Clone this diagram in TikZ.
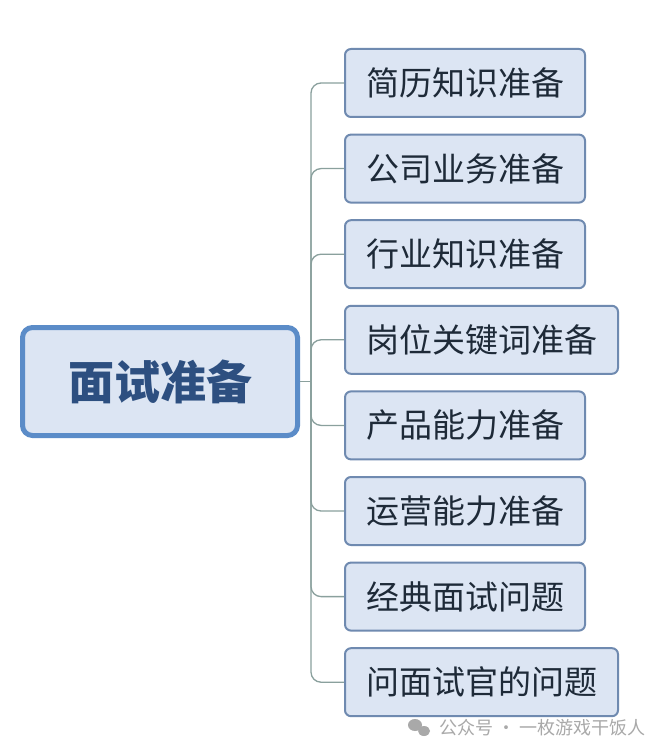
\documentclass[tikz,border=0pt]{standalone}
\usepackage{fontspec}
\newfontfamily\cjk{Noto Sans CJK SC}
\usepackage{xcolor}

\definecolor{boxfill}{HTML}{DCE5F3}
\definecolor{rootline}{HTML}{5B8CC8}
\definecolor{itemline}{HTML}{6F8AB0}
\definecolor{roottext}{HTML}{2D4F80}
\definecolor{itemtext}{HTML}{1E2A38}
\definecolor{branch}{HTML}{8AA09D}
\definecolor{wmgray}{HTML}{A9A9A9}

\begin{document}
\begin{tikzpicture}[x=1pt, y=-1pt,
	rootbox/.style={draw=rootline, line width=5pt, fill=boxfill, rounded corners=10pt,
		minimum width=275pt, minimum height=108pt, text=roottext,
		font=\cjk\bfseries\fontsize{46}{46}\selectfont},
	itembox/.style={draw=itemline, line width=2pt, fill=boxfill, rounded corners=6pt,
		minimum height=68pt, inner xsep=21pt, anchor=west, text=itemtext,
		font=\cjk\fontsize{33}{33}\selectfont},
	branchline/.style={draw=branch, line width=1.3pt, rounded corners=10pt}]
	\useasboundingbox[fill=white] (0, 0) rectangle (668, 754);

	\node[rootbox] (root) at (160, 381.5) {面试准备};
	\coordinate (hub) at (311, 381.5);

	% Draw the items on the right
	\foreach \i/\txt in {1/简历知识准备, 2/公司业务准备, 3/行业知识准备, 4/岗位关键词准备,
		5/产品能力准备, 6/运营能力准备, 7/经典面试问题, 8/问面试官的问题}
		\node[itembox] (c\i) at (344, 83 + 85.6*\i - 85.6) {\txt};

	% Draw the branches from the root to each item
	\draw[branchline] (root.east) -- (hub);
	\foreach \i in {1,...,8}
		\draw[branchline] (hub) |- (c\i.west);

	% watermark
	\fill[wmgray] (415, 725) ellipse (7pt and 6pt);
	\fill[wmgray] (424, 731) ellipse (6pt and 5pt);
	\node[anchor=west, text=wmgray, font=\cjk\fontsize{18}{18}\selectfont] (wm) at (436, 728) {公众号 · 一枚游戏干饭人};
\end{tikzpicture}
\end{document}
